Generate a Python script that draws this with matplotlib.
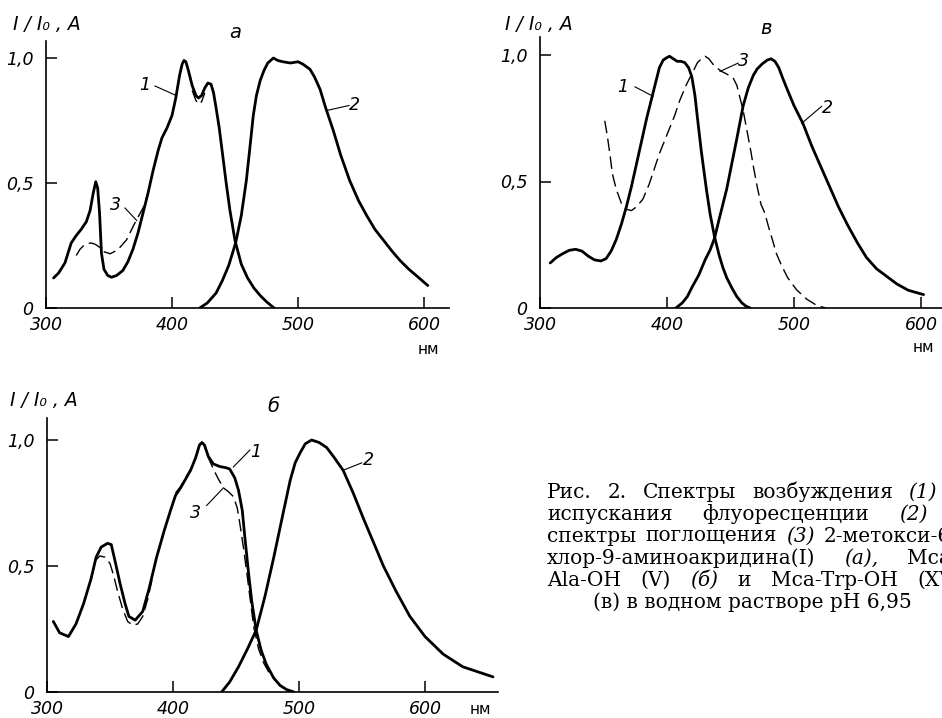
import matplotlib
matplotlib.use("Agg")
import matplotlib.pyplot as plt
import numpy as np

# ------------------------------------------------------------
# data (nm, relative intensity / absorbance)
# ------------------------------------------------------------

# panel a: 2-methoxy-6-chloro-9-aminoacridine
a_exc_x = [306, 310, 315, 320, 324, 328, 332, 335, 337.5, 339.5, 341, 342.5, 344, 346, 349, 352,
           356, 361, 365, 369, 373, 377, 381, 385, 389, 392, 396, 400, 403, 406, 408, 409.5, 411,
           413, 416, 419, 421, 423.5, 426, 428.5, 431, 433, 435, 437.5, 440, 443, 446, 450, 455,
           460, 465, 470, 475, 481]
a_exc_y = [0.12, 0.14, 0.18, 0.26, 0.29, 0.315, 0.345, 0.39, 0.46, 0.505, 0.48, 0.38, 0.22, 0.155,
           0.13, 0.123, 0.13, 0.15, 0.185, 0.235, 0.30, 0.38, 0.46, 0.55, 0.63, 0.68, 0.72, 0.77,
           0.84, 0.93, 0.975, 0.99, 0.985, 0.95, 0.89, 0.85, 0.84, 0.85, 0.88, 0.90, 0.895, 0.86,
           0.80, 0.72, 0.62, 0.50, 0.39, 0.27, 0.175, 0.12, 0.08, 0.05, 0.025, 0.0]
a_em_x = [422, 428, 435, 440, 445, 450.5, 455, 459, 462, 464.5, 467, 470, 473, 476, 480.5, 484,
          488, 494, 500, 504, 509.5, 513, 517.5, 522, 528, 534, 541, 548, 554.5, 561, 568, 575,
          581, 588, 595, 603]
a_em_y = [0.0, 0.02, 0.06, 0.11, 0.17, 0.26, 0.37, 0.51, 0.65, 0.77, 0.85, 0.91, 0.95, 0.98, 1.0,
          0.99, 0.985, 0.98, 0.985, 0.975, 0.955, 0.925, 0.875, 0.80, 0.71, 0.61, 0.51, 0.43,
          0.37, 0.315, 0.27, 0.225, 0.19, 0.155, 0.125, 0.09]
a_abs_x = [324, 327, 330, 333, 336, 339, 342, 346, 351, 357, 364, 370.5, 377, 381,
           np.nan, 416, 419, 421, 423.5, 426]
a_abs_y = [0.21, 0.235, 0.25, 0.258, 0.26, 0.255, 0.245, 0.225, 0.217, 0.233, 0.273, 0.34, 0.40,
           0.46, np.nan, 0.87, 0.83, 0.815, 0.825, 0.86]

# panel б: Mca-Ala-OH
b_exc_x = [305, 310, 317, 323, 329, 335, 339, 343, 348, 351, 354, 358, 362, 365, 370, 376, 381,
           387, 393, 398, 402, 406, 410, 414, 418, 421, 423, 425, 428, 432, 437, 442, 445, 449,
           452, 455, 457, 460, 462.5, 466, 470, 474, 480, 485, 490, 496]
b_exc_y = [0.28, 0.235, 0.22, 0.27, 0.35, 0.45, 0.535, 0.575, 0.59, 0.585, 0.52, 0.43, 0.35, 0.30,
           0.285, 0.32, 0.41, 0.535, 0.64, 0.72, 0.78, 0.81, 0.845, 0.88, 0.93, 0.98, 0.99, 0.98,
           0.935, 0.905, 0.895, 0.89, 0.885, 0.85, 0.80, 0.72, 0.615, 0.47, 0.36, 0.245, 0.165,
           0.11, 0.055, 0.026, 0.01, 0.0]
b_em_x = [438.6, 445, 452, 459, 466, 473, 480, 487, 493, 497, 501, 505, 510, 516, 522, 528, 535,
          543, 551, 559, 567, 577, 588, 600, 614.5, 630, 645, 654]
b_em_y = [0.0, 0.04, 0.10, 0.17, 0.245, 0.38, 0.535, 0.70, 0.84, 0.91, 0.95, 0.985, 1.0, 0.99,
          0.97, 0.93, 0.88, 0.79, 0.69, 0.595, 0.50, 0.40, 0.30, 0.22, 0.15, 0.10, 0.075, 0.06]
b_abs_x = [338, 342, 346, 350, 353, 356, 360, 364, 368, 372, 376, 380, 384, np.nan,
           402, 406, 410, 414, 418, 421, 423, 425, 428, 432, 436, 440, 444, 448, 451, 453, 456,
           459, 462, 464, 468, 472, 477, 482.5, 488, 494]
b_abs_y = [0.52, 0.54, 0.535, 0.51, 0.46, 0.40, 0.33, 0.28, 0.265, 0.27, 0.30, 0.37, 0.46, np.nan,
           0.79, 0.815, 0.85, 0.885, 0.93, 0.98, 0.99, 0.975, 0.93, 0.885, 0.845, 0.81, 0.795,
           0.775, 0.73, 0.67, 0.57, 0.456, 0.34, 0.26, 0.17, 0.115, 0.07, 0.04, 0.015, 0.0]

# panel в: Mca-Trp-OH
c_exc_x = [308, 313, 318, 323, 328, 333, 338, 343, 348, 352, 356, 360, 364, 368, 372, 376, 380,
           384, 388, 391, 394, 397, 400, 402, 405, 408, 411, 414, 417, 419.5, 422, 424, 427, 431,
           434, 437.5, 441, 444, 447, 451, 455, 459, 462, 465.5]
c_exc_y = [0.178, 0.20, 0.215, 0.228, 0.232, 0.225, 0.205, 0.19, 0.186, 0.195, 0.225, 0.27, 0.33,
           0.40, 0.48, 0.57, 0.66, 0.75, 0.83, 0.89, 0.95, 0.98, 0.99, 0.995, 0.985, 0.975, 0.975,
           0.97, 0.95, 0.915, 0.84, 0.75, 0.62, 0.47, 0.37, 0.28, 0.21, 0.16, 0.12, 0.08, 0.045,
           0.02, 0.008, 0.0]
c_em_x = [407, 412, 416, 420, 425, 430, 434, 437.5, 441, 444, 447, 451, 455, 460, 464, 468, 471,
          475, 479, 482, 485, 488, 491, 495, 500, 507, 514, 521, 528, 535, 542, 550, 557, 565,
          573, 581, 590, 602]
c_em_y = [0.0, 0.02, 0.045, 0.085, 0.13, 0.19, 0.23, 0.277, 0.35, 0.41, 0.47, 0.57, 0.67, 0.80,
          0.87, 0.92, 0.945, 0.965, 0.98, 0.985, 0.975, 0.95, 0.91, 0.86, 0.80, 0.73, 0.64, 0.56,
          0.48, 0.40, 0.33, 0.257, 0.20, 0.155, 0.125, 0.095, 0.07, 0.053]
c_abs_x = [351, 353, 355, 357, 360, 364, 368, 372, 376, 381, 386, 390, 394, 398, 402, 406, 410,
           415, 420, 424, 428, 430, 433, 436, 439, 443, 447, 452, 455, 458, 460, 463, 466, 468,
           471, 474, 477, 480, 483, 486, 490, 495, 502, 510, 518, 525]
c_abs_y = [0.74, 0.68, 0.61, 0.53, 0.47, 0.415, 0.39, 0.385, 0.40, 0.43, 0.49, 0.55, 0.61, 0.66,
           0.71, 0.76, 0.82, 0.88, 0.93, 0.97, 0.99, 0.995, 0.985, 0.965, 0.95, 0.935, 0.925, 0.91,
           0.88, 0.82, 0.78, 0.70, 0.62, 0.56, 0.48, 0.41, 0.375, 0.32, 0.27, 0.217, 0.17, 0.12,
           0.072, 0.035, 0.01, 0.0]

x_ticks = [300, 400, 500, 600]
y_ticks = [0, 0.5, 1.0]
y_ticklabels = ["0", "0,5", "1,0"]
y_title = "I / I\u2080 , A"
unit = "нм"

# caption as printed; the page edge cuts the right end of several lines
caption_lines = [
    ["Рис.", "2.", "Спектры", "возбуждения", "(1)"],
    ["испускания", "флуоресценции", "(2)"],
    ["спектры", "поглощения", "(3)", "2-метокси-6-"],
    ["хлор-9-аминоакридина(I)", "(а),", "Mca-"],
    ["Ala-OH", "(V)", "(б)", "и", "Mca-Trp-OH", "(XV)"],
]
caption_right = [937, 928, 958, 958, 962]
caption_last = "(в) в водном растворе pH 6,95"
caption_italic = {"(1)", "(2)", "(3)", "(а),", "(б)", "(в)"}

# ------------------------------------------------------------
# figure
# ------------------------------------------------------------
W, H = 942, 718
plt.rcParams["font.family"] = ["DejaVu Sans"]
fig = plt.figure(figsize=(W / 100, H / 100), dpi=100)


def rect(left, top, right, bottom):
    return [left / W, 1 - bottom / H, (right - left) / W, (bottom - top) / H]


def ftext(x, y, s, **kw):
    return fig.text(x / W, 1 - y / H, s, **kw)


def style_axes(ax, xmax, ymax):
    ax.set_xlim(300, xmax)
    ax.set_ylim(0, ymax)
    for side in ("top", "right"):
        ax.spines[side].set_visible(False)
    for side in ("left", "bottom"):
        ax.spines[side].set_linewidth(1.2)
    ax.set_xticks(x_ticks)
    ax.set_xticklabels([str(t) for t in x_ticks])
    ax.set_yticks(y_ticks)
    ax.set_yticklabels(y_ticklabels)
    ax.tick_params(direction="in", length=8, width=1.1, labelsize=12.5)
    ax.tick_params(axis="x", pad=6)
    ax.tick_params(axis="y", pad=9)
    for lab in ax.get_xticklabels() + ax.get_yticklabels():
        lab.set_style("italic")
    ax.patch.set_visible(False)


def draw(ax, exc, em, ab):
    ax.plot(exc[0], exc[1], color="black", lw=2.0, solid_capstyle="round")
    ax.plot(em[0], em[1], color="black", lw=2.0, solid_capstyle="round")
    ax.plot(ab[0], ab[1], color="black", lw=1.0, dashes=(9, 4))


def tag(ax, s, xy_text, xy_from, xy_to):
    ax.text(xy_text[0], xy_text[1], s, fontsize=12.5, style="italic", ha="center", va="center")
    ax.plot([xy_from[0], xy_to[0]], [xy_from[1], xy_to[1]], color="black", lw=0.8)


# panel a
ax_a = fig.add_axes(rect(46, 308 - 250 * 1.07, 46 + 1.26 * 320, 308))
style_axes(ax_a, 620, 1.07)
draw(ax_a, (a_exc_x, a_exc_y), (a_em_x, a_em_y), (a_abs_x, a_abs_y))
tag(ax_a, "1", (378.6, 0.892), (386.5, 0.888), (402.4, 0.852))
tag(ax_a, "2", (545, 0.81), (540.5, 0.81), (522.8, 0.79))
tag(ax_a, "3", (354.8, 0.41), (362.7, 0.40), (372, 0.35))
ftext(13, 25, y_title, fontsize=13.5, style="italic", va="center")
ftext(235, 32, "а", fontsize=14, style="italic", ha="center", va="center")
ftext(428, 350, unit, fontsize=11, ha="center", va="center")

# panel в
ax_c = fig.add_axes(rect(540, 308 - 253 * 1.07, 540 + 1.27 * 320, 308))
style_axes(ax_c, 620, 1.07)
draw(ax_c, (c_exc_x, c_exc_y), (c_em_x, c_em_y), (c_abs_x, c_abs_y))
tag(ax_c, "1", (365, 0.874), (374.8, 0.874), (389, 0.837))
tag(ax_c, "2", (526, 0.79), (521.8, 0.797), (506, 0.73))
tag(ax_c, "3", (460.6, 0.978), (456, 0.968), (441.7, 0.935))
ftext(505, 24, y_title, fontsize=13.5, style="italic", va="center")
ftext(766, 28, "в", fontsize=14, style="italic", ha="center", va="center")
ftext(923, 348, unit, fontsize=11, ha="center", va="center")

# panel б
ax_b = fig.add_axes(rect(47, 692 - 252 * 1.087, 47 + 1.26 * 358, 692))
style_axes(ax_b, 658, 1.087)
draw(ax_b, (b_exc_x, b_exc_y), (b_em_x, b_em_y), (b_abs_x, b_abs_y))
tag(ax_b, "1", (465.6, 0.952), (461, 0.96), (447.9, 0.893))
tag(ax_b, "2", (555, 0.92), (549.7, 0.909), (535, 0.88))
tag(ax_b, "3", (418, 0.71), (426.7, 0.74), (440, 0.81))
ftext(10, 400, y_title, fontsize=13.5, style="italic", va="center")
ftext(273, 407, "б", fontsize=14, style="italic", ha="center", va="center")
ftext(480, 710, unit, fontsize=11, ha="center", va="center")

# caption, justified like the printed page
CAP_LEFT = 547
CAP_SIZE = 14.5
renderer = fig.canvas.get_renderer()
for i, tokens in enumerate(caption_lines):
    y = 492 + 22 * i
    objs = []
    for tok in tokens:
        st = "italic" if tok in caption_italic else "normal"
        objs.append(ftext(0, y, tok, fontsize=CAP_SIZE, family="DejaVu Serif", style=st,
                          ha="left", va="center"))
    widths = [o.get_window_extent(renderer).width for o in objs]
    gap = (caption_right[i] - CAP_LEFT - sum(widths)) / (len(objs) - 1)
    x = CAP_LEFT
    for o, w in zip(objs, widths):
        o.set_position((x / W, 1 - y / H))
        x += w + gap
ftext(752, 492 + 22 * 5, caption_last, fontsize=CAP_SIZE, family="DejaVu Serif",
      ha="center", va="center")

fig.savefig("out.png", dpi=100)
